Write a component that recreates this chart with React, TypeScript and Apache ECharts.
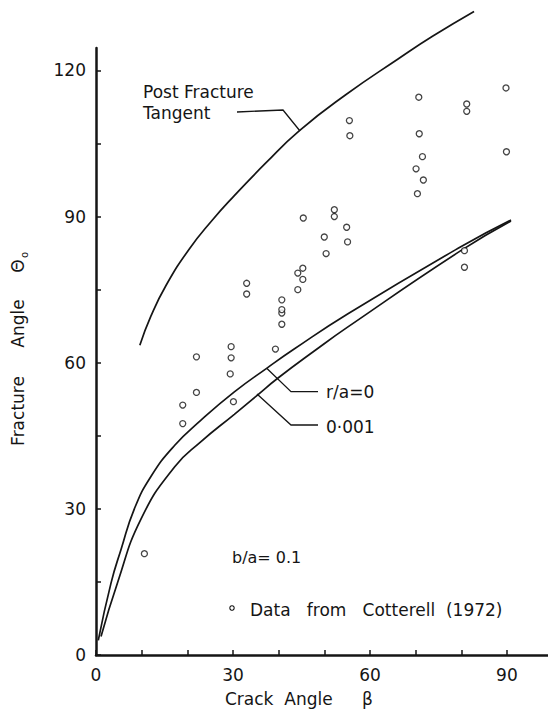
import React, { useEffect, useRef } from "react";
import * as echarts from "echarts";

// ---- Data ----
const xTickValues = [0, 10, 20, 30, 40, 50, 60, 70, 80, 90];
const xLabelValues = [0, 30, 60, 90];
const yTickValues = [0, 15, 30, 45, 60, 75, 90, 105, 120];
const yLabelValues = [0, 30, 60, 90, 120];

// Post fracture tangent curve [crack angle β, fracture angle θ0]
const postFractureTangent: [number, number][] = [
  [9.6, 63.6], [12.0, 69.5], [15.3, 75.8], [20.4, 83.3], [25.5, 89.3],
  [30.0, 94.0], [37.2, 101.0], [44.5, 107.6], [54.7, 115.0], [66.4, 122.5],
  [73.7, 127.0], [82.8, 132.1],
];

// r/a = 0 curve
const rOverA0: [number, number][] = [
  [0.5, 3.0], [3.3, 14.8], [5.5, 21.7], [8.4, 30.0], [12.0, 36.6],
  [17.2, 43.0], [23.0, 48.2], [30.3, 54.0], [37.6, 59.0], [43.4, 62.8],
  [55.1, 70.0], [79.9, 83.8], [90.9, 89.3],
];

// r/a = 0.001 curve
const rOverA0001: [number, number][] = [
  [1.1, 3.8], [4.7, 14.8], [9.9, 28.0], [17.2, 38.6], [23.0, 43.8],
  [30.3, 49.4], [35.3, 53.3], [39.8, 56.8], [47.8, 62.4], [55.1, 67.3],
  [79.9, 83.0], [90.9, 89.1],
];

// Data from Cotterell (1972)
const cotterellData: [number, number][] = [
  [10.6, 20.8], [19.0, 47.5], [19.0, 51.3], [22.0, 53.9], [22.0, 61.2],
  [29.4, 57.7], [29.6, 61.0], [29.6, 63.3], [30.1, 52.0], [33.0, 74.1],
  [33.0, 76.3], [39.3, 62.8], [40.7, 67.9], [40.7, 70.2], [40.7, 70.9],
  [40.7, 72.9], [44.2, 75.0], [44.2, 78.4], [45.3, 77.1], [45.3, 79.4],
  [45.4, 89.7], [50.0, 85.8], [50.4, 82.4], [52.2, 90.0], [52.2, 91.4],
  [54.9, 87.8], [55.1, 84.8], [55.5, 109.7], [55.6, 106.6], [70.1, 99.8],
  [70.4, 94.7], [70.7, 114.5], [70.8, 107.0], [71.5, 102.3], [71.7, 97.5],
  [80.7, 79.6], [80.7, 83.0], [81.2, 111.6], [81.2, 113.1], [89.8, 116.4],
  [89.9, 103.3],
];

const INK = "#151515";
const FONT = "DejaVu Sans";

export default function App() {
  const ref = useRef<HTMLDivElement>(null);

  useEffect(() => {
    if (!ref.current) return;
    const chart = echarts.init(ref.current, undefined, { renderer: "svg" });

    const lineSeries = (name: string, data: [number, number][]) => ({
      name,
      type: "line",
      data,
      smooth: 0.5,
      symbol: "none",
      clip: false,
      lineStyle: { color: INK, width: 1.7 },
      z: 3,
    });

    const txt = (text: string, x: number, y: number, size = 17, extra: any = {}) => ({
      type: "text",
      x,
      y,
      silent: true,
      style: {
        text,
        fill: INK,
        font: `${size}px "${FONT}"`,
        textAlign: "left",
        textVerticalAlign: "middle",
        ...extra,
      },
    });

    const leader = (points: number[][]) => ({
      type: "polyline",
      silent: true,
      shape: { points },
      style: { stroke: INK, lineWidth: 1.3, fill: "none" },
    });

    const rotated = (text: string, x: number, y: number, size = 17) => ({
      type: "text",
      x,
      y,
      rotation: Math.PI / 2,
      silent: true,
      style: {
        text,
        fill: INK,
        font: `${size}px "${FONT}"`,
        textAlign: "center",
        textVerticalAlign: "middle",
      },
    });

    chart.setOption({
      animation: false,
      backgroundColor: "#ffffff",
      grid: {
        left: 96,
        right: 0,
        top: 48,
        bottom: 54,
        containLabel: false,
        outerBoundsMode: "none",
      },
      xAxis: {
        type: "value",
        min: 0,
        max: 99,
        interval: 10,
        axisLine: { show: true, onZero: false, lineStyle: { color: INK, width: 2.5 } },
        axisTick: {
          show: true,
          inside: true,
          length: 5,
          customValues: xTickValues,
          lineStyle: { color: INK, width: 1.5 },
        },
        axisLabel: {
          customValues: xLabelValues,
          color: INK,
          fontSize: 17,
          fontFamily: FONT,
          margin: 11,
        },
        splitLine: { show: false },
      },
      yAxis: {
        type: "value",
        min: 0,
        max: 124.6,
        interval: 15,
        axisLine: { show: true, onZero: false, lineStyle: { color: INK, width: 2.5 } },
        axisTick: {
          show: true,
          inside: true,
          length: 5,
          customValues: yTickValues,
          lineStyle: { color: INK, width: 1.5 },
        },
        axisLabel: {
          customValues: yLabelValues,
          color: INK,
          fontSize: 17,
          fontFamily: FONT,
          margin: 10,
        },
        splitLine: { show: false },
      },
      series: [
        lineSeries("Post Fracture Tangent", postFractureTangent),
        lineSeries("r/a=0", rOverA0),
        lineSeries("0.001", rOverA0001),
        {
          name: "Data from Cotterell (1972)",
          type: "scatter",
          data: cotterellData,
          symbol: "circle",
          symbolSize: 6,
          itemStyle: { color: "#ffffff", borderColor: INK, borderWidth: 1.3 },
          z: 4,
        },
      ],
      graphic: [
        txt("Post Fracture", 143, 92),
        txt("Tangent", 143, 113),
        leader([[237, 112], [283, 110], [300, 131]]),
        txt("r/a=0", 326, 392),
        leader([[266.7, 368.3], [291, 391.7], [318, 391.7]]),
        txt("0·001", 326, 427),
        leader([[257, 394], [291, 425], [318, 425]]),
        txt("b/a= 0.1", 232, 557, 16),
        {
          type: "circle",
          silent: true,
          shape: { cx: 232, cy: 608, r: 2.2 },
          style: { fill: "#fff", stroke: INK, lineWidth: 1.1 },
        },
        txt("Data   from   Cotterell  (1972)", 250, 610),
        txt("Crack  Angle", 225, 699),
        txt("β", 362, 699),
        rotated("Fracture", 17.5, 411),
        rotated("Angle", 17.5, 323.5),
        rotated("Θ", 17.5, 266),
        rotated("o", 24, 255, 10),
      ],
    });

    return () => chart.dispose();
  }, []);

  return (
    <div
      ref={ref}
      style={{ position: "fixed", left: 0, top: 0, width: 548, height: 709, background: "#fff" }}
    />
  );
}
